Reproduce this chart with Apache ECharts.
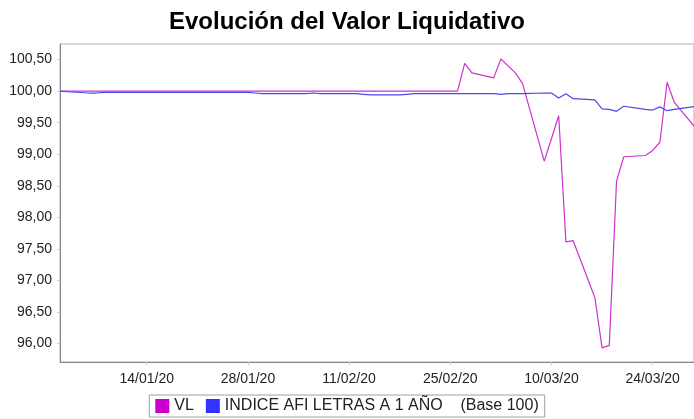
<!DOCTYPE html>
<html>
<head>
<meta charset="utf-8">
<script src="https://cdn.jsdelivr.net/npm/echarts@6/dist/echarts.min.js"></script>
<style>
html,body{margin:0;padding:0;background:#fff;}
#chart{width:694px;height:419px;}
</style>
</head>
<body>
<div id="chart"></div>
<script>
// ---- data ----
const dates = [
  '2020-01-02','2020-01-03','2020-01-06','2020-01-07','2020-01-08','2020-01-09','2020-01-10',
  '2020-01-13','2020-01-14','2020-01-15','2020-01-16','2020-01-17',
  '2020-01-20','2020-01-21','2020-01-22','2020-01-23','2020-01-24',
  '2020-01-27','2020-01-28','2020-01-29','2020-01-30','2020-01-31',
  '2020-02-03','2020-02-04','2020-02-05','2020-02-06','2020-02-07',
  '2020-02-10','2020-02-11','2020-02-12','2020-02-13','2020-02-14',
  '2020-02-17','2020-02-18','2020-02-19','2020-02-20','2020-02-21',
  '2020-02-24','2020-02-25','2020-02-26','2020-02-27','2020-02-28',
  '2020-03-02','2020-03-03','2020-03-04','2020-03-05','2020-03-06',
  '2020-03-09','2020-03-10','2020-03-11','2020-03-12','2020-03-13',
  '2020-03-16','2020-03-17','2020-03-18','2020-03-19','2020-03-20',
  '2020-03-23','2020-03-24','2020-03-25','2020-03-26','2020-03-27',
  '2020-03-30'
];
const vlValues = [
  100.00,100.00,100.00,100.00,100.00,100.00,100.00,
  100.00,100.00,100.00,100.00,100.00,
  100.00,100.00,100.00,100.00,100.00,
  100.00,100.00,100.00,100.00,100.00,
  100.00,100.00,100.00,100.00,100.00,
  100.00,100.00,100.00,100.00,100.00,
  100.00,100.00,100.00,100.00,100.00,
  100.00,100.00,100.00,100.44,100.29,
  100.21,100.51,100.40,100.29,100.12,
  98.89,99.25,99.61,97.61,97.63,
  96.73,95.93,95.97,98.57,98.96,
  98.98,99.06,99.19,100.14,99.82,
  99.41
];
const indexValues = [
  100.00,99.99,99.97,99.97,99.98,99.98,99.98,
  99.98,99.98,99.98,99.98,99.98,
  99.98,99.98,99.98,99.98,99.98,
  99.98,99.98,99.97,99.96,99.96,
  99.96,99.96,99.96,99.97,99.96,
  99.96,99.96,99.96,99.95,99.94,
  99.94,99.94,99.95,99.96,99.96,
  99.96,99.96,99.96,99.96,99.96,
  99.96,99.95,99.96,99.96,99.96,
  99.97,99.97,99.89,99.96,99.88,
  99.86,99.72,99.71,99.68,99.76,
  99.71,99.70,99.75,99.69,99.71,
  99.76
];
const xTickDates = ['2020-01-14','2020-01-28','2020-02-11','2020-02-25','2020-03-10','2020-03-24'];
const yTickValues = [96.00,96.50,97.00,97.50,98.00,98.50,99.00,99.50,100.00,100.50];
const seriesNames = ['VL','INDICE AFI LETRAS A 1 AÑO    (Base 100)'];
const titleText = 'Evolución del Valor Liquidativo';

// ---- chart ----
const DAY = 86400000;
const EPOCH = Date.UTC(2020,0,1);
function dayNum(s){ const p = s.split('-').map(Number); return Math.round((Date.UTC(p[0], p[1]-1, p[2]) - EPOCH)/DAY); }
function pad(n){ return (n<10?'0':'')+n; }
function fmtDay(v){ const d = new Date(EPOCH + Math.round(v)*DAY); return pad(d.getUTCDate())+'/'+pad(d.getUTCMonth()+1)+'/'+String(d.getUTCFullYear()).slice(2); }
const xMin = dayNum('2020-01-02');
const xMax = dayNum('2020-03-29') + 0.72;
const xTicks = xTickDates.map(dayNum);

const chart = echarts.init(document.getElementById('chart'), null, {renderer:'canvas'});
const font = 'Liberation Sans, Arial, sans-serif';
chart.setOption({
  animation:false,
  backgroundColor:'#fff',
  title:{
    text:titleText, left:'center', top:5,
    textStyle:{fontFamily:font, fontSize:24, fontWeight:'bold', color:'#000'}
  },
  legend:{
    bottom:2, left:'center',
    icon:'rect', itemWidth:14, itemHeight:14, itemGap:12,
    borderColor:'#a0a0a0', borderWidth:1, padding:[3,6,3,6],
    textStyle:{fontFamily:font, fontSize:16, color:'#222'},
    data:seriesNames
  },
  grid:{left:60, top:44, right:-1, bottom:57, show:true, borderColor:'#b0b0b0', borderWidth:1},
  xAxis:{
    type:'value', min:xMin, max:xMax,
    axisLine:{show:true, onZero:false, lineStyle:{color:'#888', width:1}},
    axisTick:{show:true, length:3, lineStyle:{color:'#ccc'}, customValues:xTicks},
    axisLabel:{
      customValues:xTicks, fontFamily:font, fontSize:14, color:'#222', margin:10,
      formatter:fmtDay
    },
    splitLine:{show:false}
  },
  yAxis:{
    type:'value', min:95.707, max:100.747,
    axisLine:{show:true, onZero:false, lineStyle:{color:'#888', width:1}},
    axisTick:{show:true, length:3, lineStyle:{color:'#ccc'}, customValues:yTickValues},
    axisLabel:{
      customValues:yTickValues, fontFamily:font, fontSize:14, color:'#222', margin:8,
      formatter:function(v){ return Number(v).toFixed(2).replace('.',','); }
    },
    splitLine:{show:false}
  },
  series:[
    {name:seriesNames[0], type:'line', data:dates.map((d,i)=>[dayNum(d), vlValues[i]]),
     showSymbol:false, symbol:'none', lineStyle:{color:'#cc33cc', width:1.2}, itemStyle:{color:'#cc00cc'}, z:2},
    {name:seriesNames[1], type:'line', data:dates.map((d,i)=>[dayNum(d), indexValues[i]]),
     showSymbol:false, symbol:'none', lineStyle:{color:'#4a4ae8', width:1.2}, itemStyle:{color:'#3333ff'}, z:3}
  ]
});
</script>
</body>
</html>
